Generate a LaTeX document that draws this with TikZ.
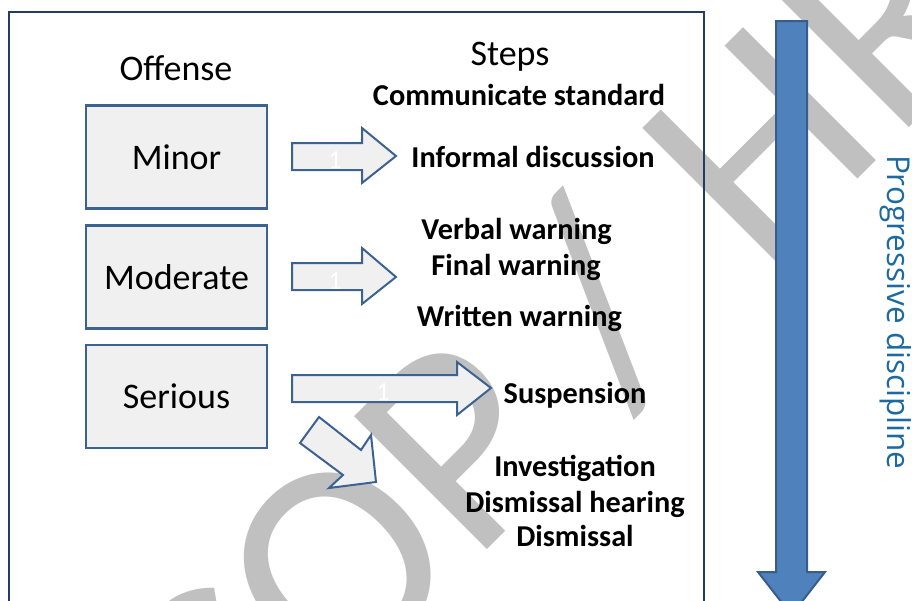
\documentclass[tikz,border=0pt]{standalone}
\usepackage{fontspec}
\setmainfont{Carlito}
\newfontfamily\sidefont{Open Sans}
\definecolor{framenavy}{RGB}{36,60,100}
\definecolor{boxblue}{RGB}{60,98,146}
\definecolor{boxfill}{RGB}{240,240,240}
\definecolor{wmgray}{RGB}{192,192,192}
\definecolor{barblue}{RGB}{79,129,189}
\definecolor{baredge}{RGB}{56,93,138}
\definecolor{sidetext}{RGB}{28,106,160}
\begin{document}
\begin{tikzpicture}[x=1pt,y=-1pt,
  every node/.style={inner sep=0pt,outer sep=0pt},
  watermark/.style={text=wmgray,font=\fontsize{293}{300}\selectfont,rotate=45,anchor=base west},
  offbox/.style={draw=boxblue,fill=boxfill,line width=2.5pt,minimum width=181pt,minimum height=103pt,font=\fontsize{36}{40}\selectfont},
  heading/.style={font=\fontsize{36}{40}\selectfont,anchor=base},
  stepitem/.style={font=\bfseries\fontsize{30.3}{34}\selectfont,anchor=base},
  blockarrow/.style={draw=boxblue,fill=boxfill,line width=2pt,line join=miter},
  arrownum/.style={text=white,font=\fontsize{26}{28}\selectfont},
  bigarrow/.style={draw=baredge,fill=barblue,line width=2pt,line join=miter},
  sidelabel/.style={text=sidetext,font=\sidefont\fontsize{31.5}{34}\selectfont,rotate=-90,anchor=base west}
]
\useasboundingbox (0,0) rectangle (912,600);
\clip (0,0) rectangle (912,600);

% background watermark
\node[watermark] (wm) at (227,810) {COP / \kern12pt H\kern5pt R};

% outer frame
\draw[framenavy,line width=2.5pt] (9,12) rectangle (704,640);

% column headings
\node[heading] (offense) at (176,80) {Offense};
\node[heading] (steps) at (510,65) {Steps};

% offense categories
\node[offbox] (minor) at (176.5,157) {Minor};
\node[offbox] (moderate) at (176.5,277) {Moderate};
\node[offbox] (serious) at (176.5,396.5) {Serious};

% block arrows from categories to steps
\draw[blockarrow] (292,143) -- (362,143) -- (362,128) -- (396,156) -- (362,183) -- (362,170) -- (292,170) -- cycle;
\draw[blockarrow] (292,263) -- (362,263) -- (362,248) -- (396,277) -- (362,304) -- (362,290) -- (292,290) -- cycle;
\draw[blockarrow] (292,375) -- (457,375) -- (457,362) -- (491,388) -- (457,415) -- (457,402) -- (292,402) -- cycle;
\draw[blockarrow] (319,417) -- (361,450) -- (371,435) -- (376,482) -- (329,488) -- (343,475) -- (300,443) -- cycle;
\node[arrownum] (n1) at (335,160) {1};
\node[arrownum] (n2) at (335,281) {1};
\node[arrownum] (n3) at (383,392) {1};

% disciplinary steps
\node[stepitem] (communicate) at (519,105) {Communicate standard};
\node[stepitem] (informal) at (533,167) {Informal discussion};
\node[stepitem] (verbal) at (516.5,239) {Verbal warning};
\node[stepitem] (final) at (516,275) {Final warning};
\node[stepitem] (written) at (519.5,326) {Written warning};
\node[stepitem] (suspension) at (575,403) {Suspension};
\node[stepitem] (investigation) at (575,476) {Investigation};
\node[stepitem] (hearing) at (575,512) {Dismissal hearing};
\node[stepitem] (dismissal) at (575,546) {Dismissal};

% progression arrow and its label
\draw[bigarrow] (776,21) -- (807,21) -- (807,572) -- (825,572) -- (791.5,615) -- (758,572) -- (776,572) -- cycle;
\node[sidelabel] (progressive) at (887,155) {Progressive discipline};
\end{tikzpicture}
\end{document}
